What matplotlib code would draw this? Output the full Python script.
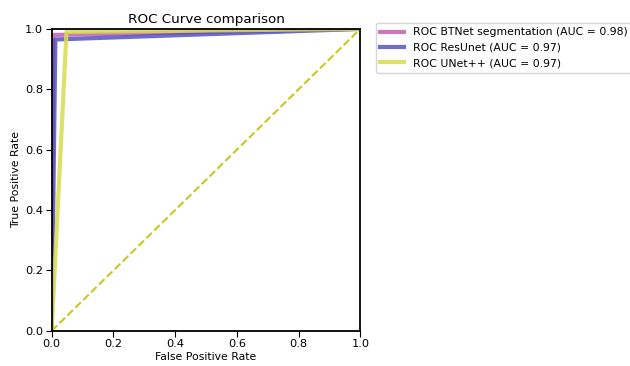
import matplotlib
matplotlib.use("Agg")
import matplotlib.pyplot as plt

labels = ["ROC BTNet segmentation (AUC = 0.98)",
          "ROC ResUnet (AUC = 0.97)",
          "ROC UNet++ (AUC = 0.97)"]
fpr_bt = [0.0, 0.005, 1.0]
tpr_bt = [0.0, 0.98, 1.0]
fpr_res = [0.0, 0.012, 1.0]
tpr_res = [0.0, 0.965, 1.0]
fpr_unet = [0.0, 0.048, 1.0]
tpr_unet = [0.0, 0.99, 1.0]
colors = ["#c060b0", "#4a48c0", "#d8dc50"]

fig = plt.figure(figsize=(6.3, 3.66), dpi=100)
ax = fig.add_axes([0.082, 0.096, 0.490, 0.825])
ax.plot(fpr_bt, tpr_bt, color=colors[0], lw=3, alpha=0.85, label=labels[0])
ax.plot(fpr_res, tpr_res, color=colors[1], lw=3, alpha=0.8, label=labels[1])
ax.plot(fpr_unet, tpr_unet, color=colors[2], lw=3, alpha=0.85, label=labels[2])
ax.plot([0, 1], [0, 1], color="#c8c820", ls="--", lw=1.5)
ax.set_xlim(0, 1)
ax.set_ylim(0, 1)
ax.set_xticks([0, 0.2, 0.4, 0.6, 0.8, 1.0])
ax.set_yticks([0, 0.2, 0.4, 0.6, 0.8, 1.0])
ax.tick_params(labelsize=8.2, length=4, pad=2)
ax.set_xlabel("False Positive Rate", fontsize=7.8, labelpad=2)
ax.set_ylabel("True Positive Rate", fontsize=7.8, labelpad=3)
ax.set_title("ROC Curve comparison", fontsize=9.7, pad=4)
for s in ax.spines.values():
    s.set_linewidth(1.3)
ax.legend(loc="upper left", bbox_to_anchor=(1.04, 1.03), fontsize=7.8,
          handlelength=2.2, borderaxespad=0.3)
fig.savefig("out.png", dpi=100)
